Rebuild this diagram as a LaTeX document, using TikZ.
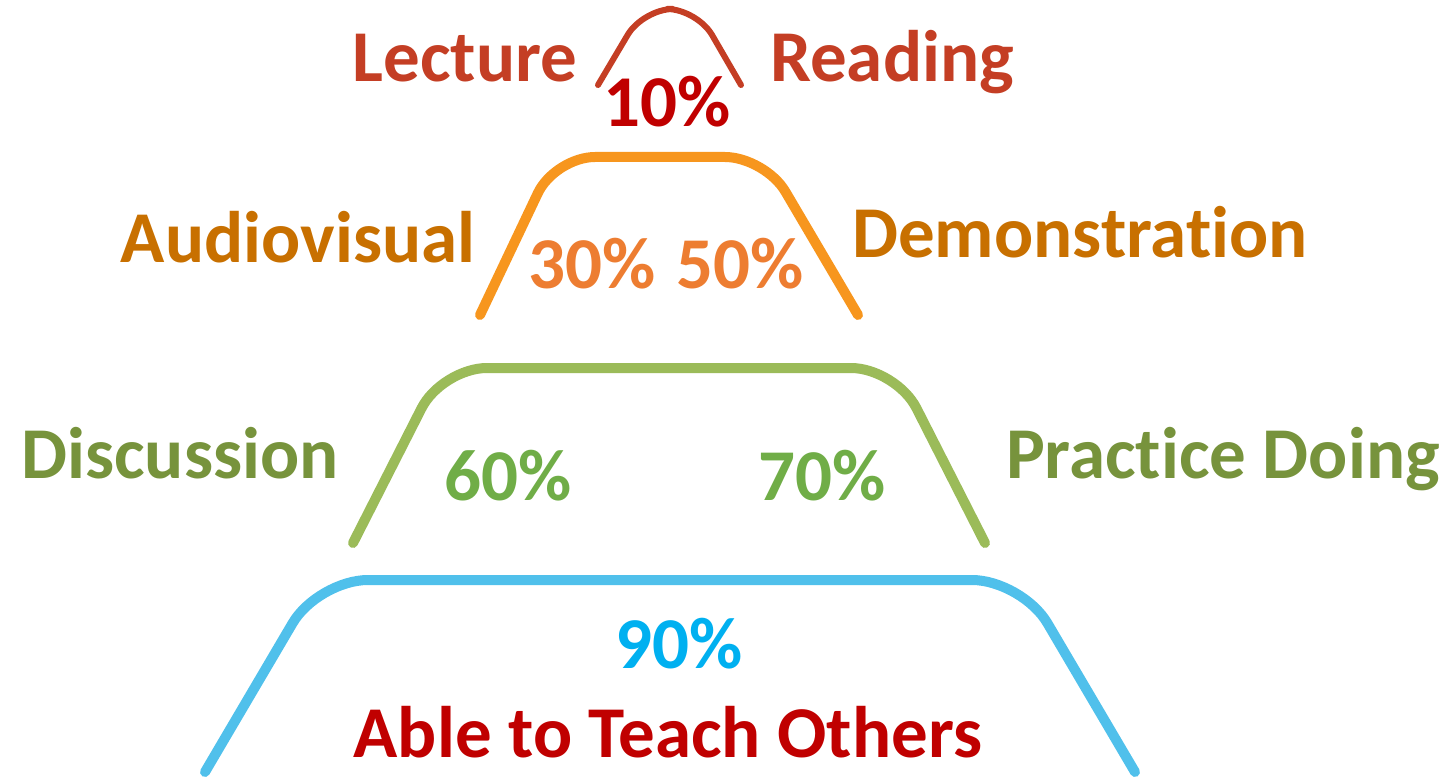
\documentclass[tikz,border=0pt]{standalone}
\usepackage{fontspec}
\setmainfont{Carlito}[Ligatures=NoCommon]
\usetikzlibrary{positioning}
\definecolor{lecred}{RGB}{196,62,36}
\definecolor{darkred}{RGB}{192,0,0}
\definecolor{avorange}{RGB}{200,112,0}
\definecolor{lineorange}{RGB}{247,150,30}
\definecolor{pctorange}{RGB}{237,125,49}
\definecolor{linegreen}{RGB}{155,187,89}
\definecolor{txtgreen}{RGB}{119,147,60}
\definecolor{pctgreen}{RGB}{112,173,71}
\definecolor{lineblue}{RGB}{80,192,235}
\definecolor{pctblue}{RGB}{0,176,240}
\begin{document}
\begin{tikzpicture}[x=1pt, y=-1pt, arch/.style={line cap=round, line join=round, rounded corners=#1}, t/.style={font=\fontsize{73}{80}\selectfont\bfseries, inner sep=0pt, anchor=base}]
\useasboundingbox (0,0) rectangle (1453,778);
% arches, top to bottom
\draw[arch=30pt, lecred, line width=6pt] (598,85) -- (643,9) -- (697,9) -- (741,85);
\draw[arch=40pt, lineorange, line width=10pt] (480,315) -- (555,157) -- (765,157) -- (858,315);
\draw[arch=45pt, linegreen, line width=10pt] (353,543) -- (442,368) -- (896,368) -- (985,543);
\draw[arch=50pt, lineblue, line width=10pt] (205,772) -- (318,580) -- (1022,580) -- (1135,772);
% labels
\node[t, lecred] (lec) at (465,82) {Lecture};
\node[t, lecred] (rea) at (892,82) {Reading};
\node[t, darkred] (p10) at (667,127) {10\%};
\node[t, avorange] (aud) at (298,262) {Audiovisual};
\node[t, avorange] (dem) at (1080,257) {Demonstration};
\node[t, pctorange] (p30) at (592,288) {30\%};
\node[t, pctorange] (p50) at (740,288) {50\%};
\node[t, txtgreen] (dis) at (180,478) {Discussion};
\node[t, txtgreen] (pra) at (1223,478) {Practice Doing};
\node[t, pctgreen] (p60) at (508,500) {60\%};
\node[t, pctgreen] (p70) at (822,500) {70\%};
\node[t, pctblue] (p90) at (679,668) {90\%};
\node[t, darkred] (ato) at (668,757) {Able to Teach Others};
\end{tikzpicture}
\end{document}
